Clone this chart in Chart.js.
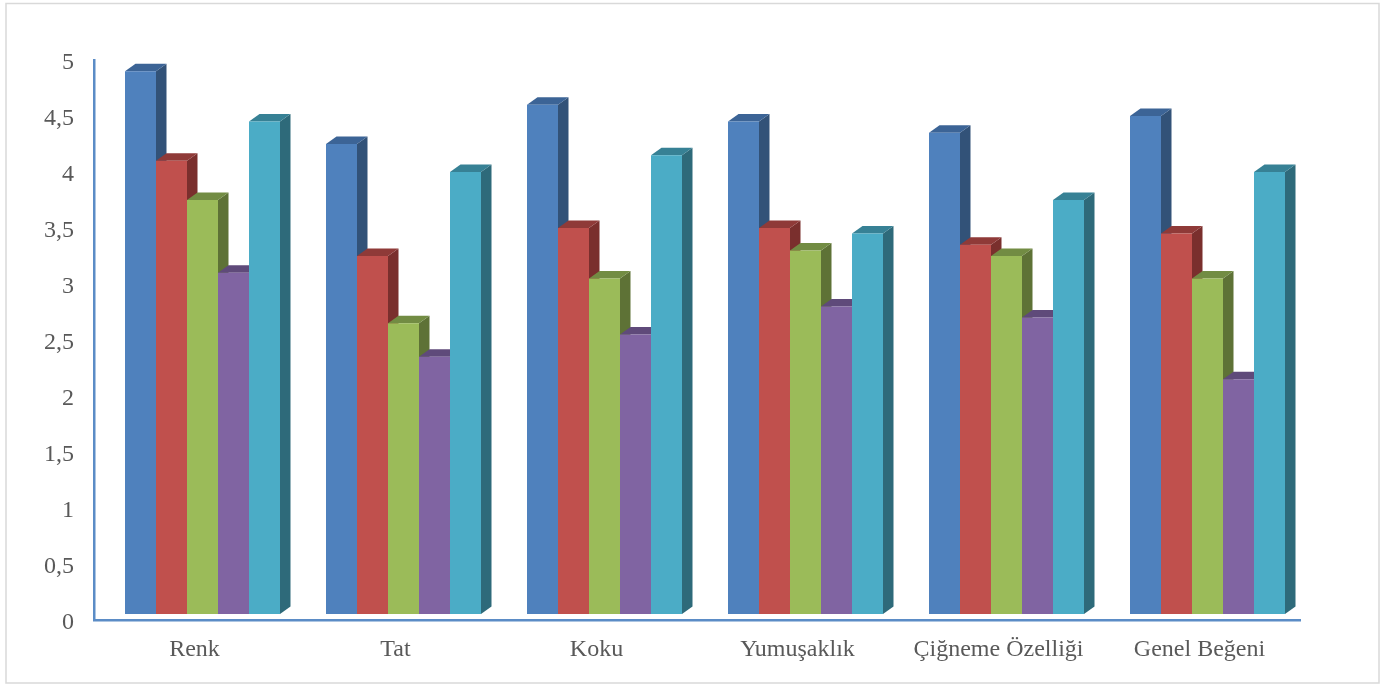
<!DOCTYPE html>
<html><head><meta charset="utf-8">
<style>html,body{margin:0;padding:0;background:#fff}#w{position:fixed;left:0;top:0;width:1384px;height:684px}</style>
<script src="https://cdn.jsdelivr.net/npm/chart.js@4"></script>
</head><body><div id="w"><canvas id="c" width="1384" height="684"></canvas></div>
<script>
const categories = ['Renk','Tat','Koku','Yumuşaklık','Çiğneme Özelliği','Genel Beğeni'];
const series1 = [4.9,4.25,4.6,4.45,4.35,4.5];
const series2 = [4.1,3.25,3.5,3.5,3.35,3.45];
const series3 = [3.75,2.65,3.05,3.3,3.25,3.05];
const series4 = [3.1,2.35,2.55,2.8,2.7,2.15];
const series5 = [4.45,4.0,4.15,3.45,3.75,4.0];
const frontColors = ['#4f81bd','#c0504d','#9bbb59','#8064a2','#4bacc6'];
const sideColors  = ['#325278','#7a2f2d','#5e7236','#4c3b62','#2e6a7a'];
const topColors   = ['#3c6496','#8f3a38','#728c43','#5f4a7a','#378195'];
const allSeries = [series1,series2,series3,series4,series5];

const DEPTH_X = 10.5, DEPTH_Y = 7.5, SHIFT_X = 8, SHIFT_Y = -0.5;

const bars3d = {
  id:'bars3d',
  beforeDraw(chart){
    const {ctx}=chart;
    ctx.save();
    ctx.fillStyle='#fff';ctx.fillRect(0,0,1384,684);
    ctx.strokeStyle='#d9d9d9';ctx.lineWidth=1.5;
    ctx.strokeRect(6,3.5,1373,679.5);
    ctx.restore();
  },
  beforeDatasetsDraw(chart){
    const {ctx}=chart;
    ctx.save();
    ctx.translate(SHIFT_X,SHIFT_Y);
    allSeries.forEach((s,i)=>{
      const meta=chart.getDatasetMeta(i);
      meta.data.forEach(b=>{
        const p=b.getProps(['x','y','base','width'],true);
        const l=p.x-p.width/2,r=p.x+p.width/2;
        ctx.fillStyle=sideColors[i];
        ctx.beginPath();
        ctx.moveTo(r,p.y);ctx.lineTo(r+DEPTH_X,p.y-DEPTH_Y);
        ctx.lineTo(r+DEPTH_X,p.base-DEPTH_Y);ctx.lineTo(r,p.base);ctx.closePath();ctx.fill();
        ctx.fillStyle=topColors[i];
        ctx.beginPath();
        ctx.moveTo(l,p.y);ctx.lineTo(l+DEPTH_X,p.y-DEPTH_Y);
        ctx.lineTo(r+DEPTH_X,p.y-DEPTH_Y);ctx.lineTo(r,p.y);ctx.closePath();ctx.fill();
      });
      meta.controller.draw();
    });
    ctx.restore();
    return false;
  }
};

new Chart(document.getElementById('c'),{
  type:'bar',
  plugins:[bars3d],
  data:{labels:categories,datasets:allSeries.map((d,i)=>({
    label:'Seri '+(i+1),data:d,backgroundColor:frontColors[i],
    base:0.054,borderWidth:0,
    barPercentage:1,categoryPercentage:155/201
  }))},
  options:{
    responsive:false,animation:false,
    layout:{padding:{left:0,top:60.5,right:84,bottom:0}},
    plugins:{legend:{display:false},tooltip:{enabled:false},title:{display:false}},
    scales:{
      x:{
        afterFit(s){s.height=63.5},
        grid:{display:false,drawTicks:false},
        border:{display:true,color:'#5b8cc6',width:2.5},
        ticks:{color:'#595959',font:{family:'"Liberation Serif"',size:24},padding:15,maxRotation:0,autoSkip:false}
      },
      y:{
        min:0,max:5,
        afterFit(s){s.width=94},
        grid:{display:false,drawTicks:false},
        border:{display:true,color:'#5b8cc6',width:2.5},
        ticks:{stepSize:.5,color:'#595959',font:{family:'"Liberation Serif"',size:24},padding:20,labelOffset:2,
          callback:v=>String(v).replace('.',',')}
      }
    }
  }
});
</script></body></html>
